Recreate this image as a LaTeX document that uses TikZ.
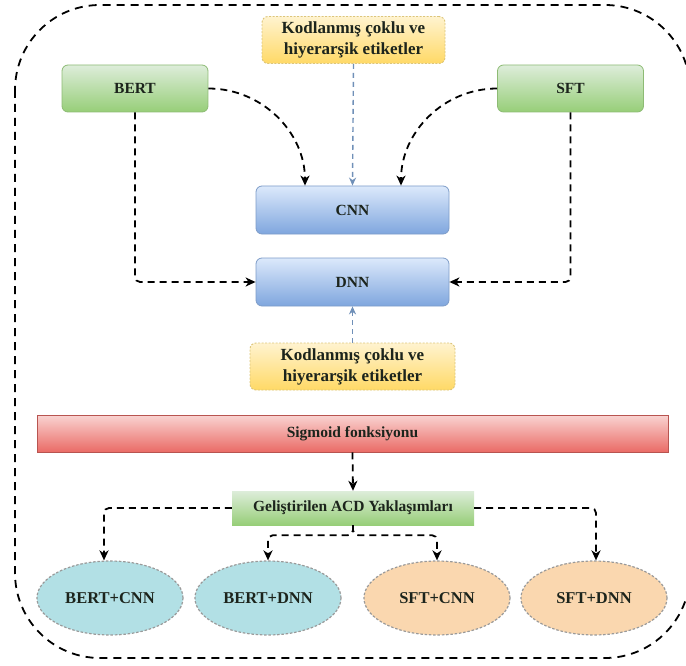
\documentclass[tikz,border=0pt]{standalone}
\usepackage{fontspec}
\setmainfont{Liberation Serif}
\usetikzlibrary{arrows.meta,shapes.geometric,calc}

% palette
\definecolor{txt}{HTML}{1C241C}
\definecolor{gTop}{HTML}{DDEDDA}
\definecolor{gBot}{HTML}{97CE78}
\definecolor{gLine}{HTML}{8DBB74}
\definecolor{bTop}{HTML}{DCE9FB}
\definecolor{bBot}{HTML}{7FA6DE}
\definecolor{bLine}{HTML}{7D9CC8}
\definecolor{yTop}{HTML}{FFF3CF}
\definecolor{yBot}{HTML}{FFD966}
\definecolor{yLine}{HTML}{DCC57A}
\definecolor{rTop}{HTML}{F9D3D1}
\definecolor{rBot}{HTML}{EA6B66}
\definecolor{rLine}{HTML}{B85450}
\definecolor{cyanFill}{HTML}{B2E0E5}
\definecolor{orFill}{HTML}{FAD7AF}
\definecolor{ellLine}{HTML}{9A9A9A}
\definecolor{feed}{HTML}{7090B8}

\begin{document}
\begin{tikzpicture}[x=1pt,y=-1pt,
  lbl/.style={font=\bfseries\fontsize{15.5}{21}\selectfont, text=txt, align=center, inner sep=0pt},
  greenbox/.style={lbl, rectangle, rounded corners=6pt, top color=gTop, bottom color=gBot,
    draw=gLine, line width=0.8pt, minimum width=146pt, minimum height=47pt},
  bluebox/.style={lbl, rectangle, rounded corners=6pt, top color=bTop, bottom color=bBot,
    draw=bLine, line width=0.8pt, minimum width=193pt, minimum height=48pt},
  tagbox/.style={lbl, font=\bfseries\fontsize{17}{21}\selectfont, rectangle, rounded corners=6pt,
    top color=yTop, bottom color=yBot, draw=yLine, line width=0.9pt,
    dash pattern=on 2pt off 1.5pt, minimum height=47pt},
  redbar/.style={lbl, rectangle, top color=rTop, bottom color=rBot,
    draw=rLine, line width=0.9pt, minimum width=631pt, minimum height=37pt},
  acdbox/.style={lbl, rectangle, top color=gTop, bottom color=gBot,
    minimum width=242pt, minimum height=34pt},
  result/.style={lbl, font=\bfseries\fontsize{16.5}{21}\selectfont, ellipse, draw=ellLine,
    line width=1.2pt, dash pattern=on 2.5pt off 1.8pt, minimum width=146pt, minimum height=74pt},
  flow/.style={draw=black, line width=1.8pt, dash pattern=on 7pt off 5pt,
    -{Stealth[length=10pt,width=9pt,inset=3pt]}},
  feedline/.style={draw=feed, line width=1.4pt, dash pattern=on 5pt off 4pt,
    -{Stealth[length=8pt,width=7pt,inset=2.5pt]}}
]
\useasboundingbox (0,0) rectangle (686,666);

% enclosing dashed frame
\draw[line width=1.8pt, dash pattern=on 8pt off 6pt, rounded corners=85pt]
  (15,5) rectangle (690,658);

% inputs and models
\node[tagbox, minimum width=183pt] (tagTop) at (353.5,40) {Kodlanmış çoklu ve\\hiyerarşik etiketler};
\node[greenbox] (bert) at (135,88.5) {BERT};
\node[greenbox] (sft) at (570.5,88.5) {SFT};
\node[bluebox] (cnn) at (352.5,210) {CNN};
\node[bluebox] (dnn) at (352.5,282) {DNN};
\node[tagbox, minimum width=205pt] (tagBot) at (352.5,366.5) {Kodlanmış çoklu ve\\hiyerarşik etiketler};

% output stage
\node[redbar] (sig) at (352.5,433.5) {Sigmoid fonksiyonu};
\node[acdbox] (acd) at (353,508) {Geliştirilen ACD Yaklaşımları};

\node[result, fill=cyanFill] (e1) at (110,598) {BERT+CNN};
\node[result, fill=cyanFill] (e2) at (268,598) {BERT+DNN};
\node[result, fill=orFill] (e3) at (437,598) {SFT+CNN};
\node[result, fill=orFill] (e4) at (594,598) {SFT+DNN};

% embeddings into the networks
\draw[flow] (bert.east) to[out=0,in=90] ($(cnn.north)+(-47.5,0)$);
\draw[flow] (sft.west) to[out=180,in=90] ($(cnn.north)+(48.5,0)$);
\draw[flow, rounded corners=5pt] (bert.south) |- (dnn.west);
\draw[flow, rounded corners=5pt] (sft.south) |- (dnn.east);

% label inputs
\draw[feedline] (tagTop.south) -- (cnn.north);
\draw[feedline] (tagBot.north) -- (dnn.south);

% sigmoid to approaches
\draw[flow] (sig.south) -- (acd.north);

% approaches to the four combinations
\coordinate (split) at ($(acd.south)+(0,10)$);
\draw[flow, rounded corners=5pt] (acd.west) -| ($(e1.north)+(-6,0)$);
\draw[flow, rounded corners=5pt] (acd.south) -- (split) -| (e2.north);
\draw[flow, rounded corners=5pt] (acd.south) -- (split) -| (e3.north);
\draw[flow, rounded corners=5pt] (acd.east) -| ($(e4.north)+(2,0)$);
\end{tikzpicture}
\end{document}
